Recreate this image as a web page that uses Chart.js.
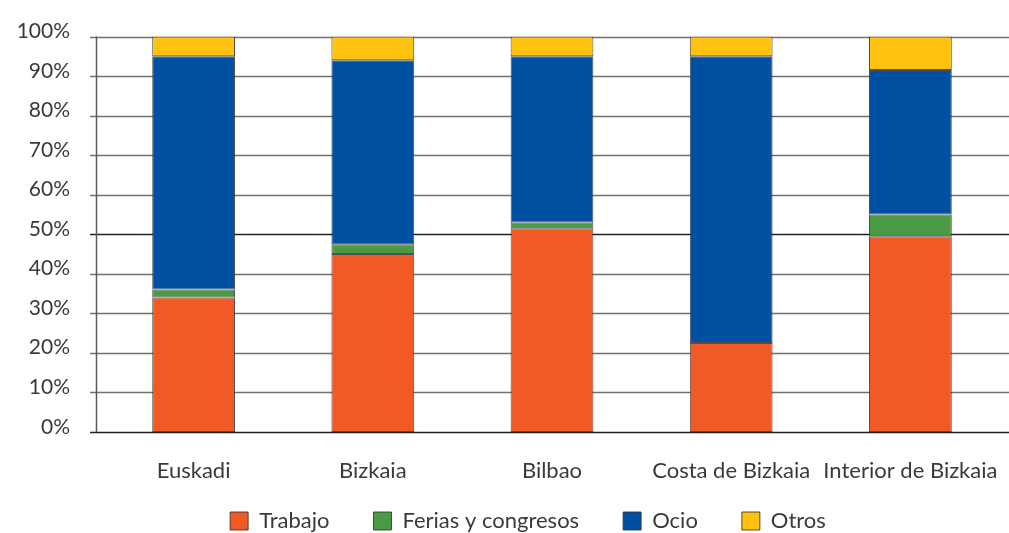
<!DOCTYPE html>
<html lang="es">
<head>
<meta charset="UTF-8">
<title>Motivo del viaje</title>
<style>
  body { margin: 0; background: #fff; }
  .wrap { width: 1009px; height: 533px; }
</style>
<script src="https://cdn.jsdelivr.net/npm/chart.js"></script>
</head>
<body>
<div class="wrap"><canvas id="chart"></canvas></div>
<script>
  // datos (%)
  const zonas = ['Euskadi', 'Bizkaia', 'Bilbao', 'Costa de Bizkaia', 'Interior de Bizkaia'];
  const trabajo = [34, 45, 51.5, 22.5, 49.5];
  const ferias = [2, 2.5, 1.5, 0, 5.5];
  const ocio = [59, 46.5, 42, 72.5, 36.5];
  const otros = [5, 6, 5, 5, 8.5];
  const ticksY = [0, 10, 20, 30, 40, 50, 60, 70, 80, 90, 100];

  const fontName = 'Lato, "Open Sans", sans-serif';
  const textColor = '#3a3a3a';

  // lineas de fondo, que van de x=90 hasta el borde derecho
  const gridPlugin = {
    id: 'gridFondo',
    beforeDatasetsDraw(chart) {
      const ctx = chart.ctx;
      const y = chart.scales.y;
      ctx.save();
      ticksY.forEach(v => {
        const py = Math.round(y.getPixelForValue(v)) + 0.5;
        ctx.strokeStyle = v === 50 || v === 0 ? '#222' : '#707070';
        ctx.lineWidth = 1.5;
        ctx.beginPath();
        ctx.moveTo(90, py);
        ctx.lineTo(chart.width, py);
        ctx.stroke();
      });
      ctx.strokeStyle = '#5a5a5a';
      ctx.lineWidth = 1.5;
      ctx.beginPath();
      ctx.moveTo(96.5, y.getPixelForValue(100));
      ctx.lineTo(96.5, y.getPixelForValue(0));
      ctx.stroke();
      ctx.restore();
    }
  };

  // la leyenda no esta centrada en el lienzo: se mueve tras el layout
  const legendShift = {
    id: 'legendShift',
    afterLayout(chart) {
      const l = chart.legend;
      l.left += 28; l.right += 28;
      l.top = 466; l.bottom = 533; l.height = 67;
    }
  };

  function serie(label, data, color) {
    return {
      label: label,
      data: data,
      backgroundColor: color,
      borderColor: 'rgba(50,50,50,0.85)',
      borderWidth: 1,
      borderSkipped: false,
      categoryPercentage: 1,
      barPercentage: 0.462
    };
  }

  new Chart(document.getElementById('chart'), {
    type: 'bar',
    data: {
      labels: zonas,
      datasets: [
        serie('Trabajo', trabajo, '#f15a24'),
        serie('Ferias y congresos', ferias, '#4a9a45'),
        serie('Ocio', ocio, '#0050a2'),
        serie('Otros', otros, '#ffc20e')
      ]
    },
    options: {
      responsive: true,
      maintainAspectRatio: false,
      animation: false,
      layout: { padding: { top: 28, right: 9, left: 0, bottom: 0 } },
      scales: {
        x: {
          stacked: true,
          grid: { display: false },
          border: { display: false },
          ticks: {
            color: textColor,
            padding: 18,
            maxRotation: 0,
            autoSkip: false,
            font: { family: fontName, size: 22 }
          },
          afterFit(s) {
            s.height = 533 - s.chart.legend.height - 432;
            // la ultima etiqueta puede salirse del borde, como en el original
            s.paddingLeft = 0;
            s.paddingRight = 0;
          }
        },
        y: {
          stacked: true,
          min: 0,
          max: 100,
          grid: { display: false },
          border: { display: false },
          afterFit(s) { s.width = 104; },
          afterBuildTicks(s) { s.ticks = ticksY.map(v => ({ value: v })); },
          ticks: {
            color: textColor,
            padding: 26,
            font: { family: fontName, size: 21, lineHeight: 0.5 },
            // segunda linea vacia: sube la etiqueta unos px
            callback: v => [v + '%', '']
          }
        }
      },
      plugins: {
        legend: {
          position: 'bottom',
          maxHeight: 20,
          labels: {
            color: textColor,
            boxWidth: 18,
            boxHeight: 18,
            padding: 44,
            font: { family: fontName, size: 22 }
          }
        },
        tooltip: { enabled: false }
      }
    },
    plugins: [gridPlugin, legendShift]
  });
</script>
</body>
</html>
